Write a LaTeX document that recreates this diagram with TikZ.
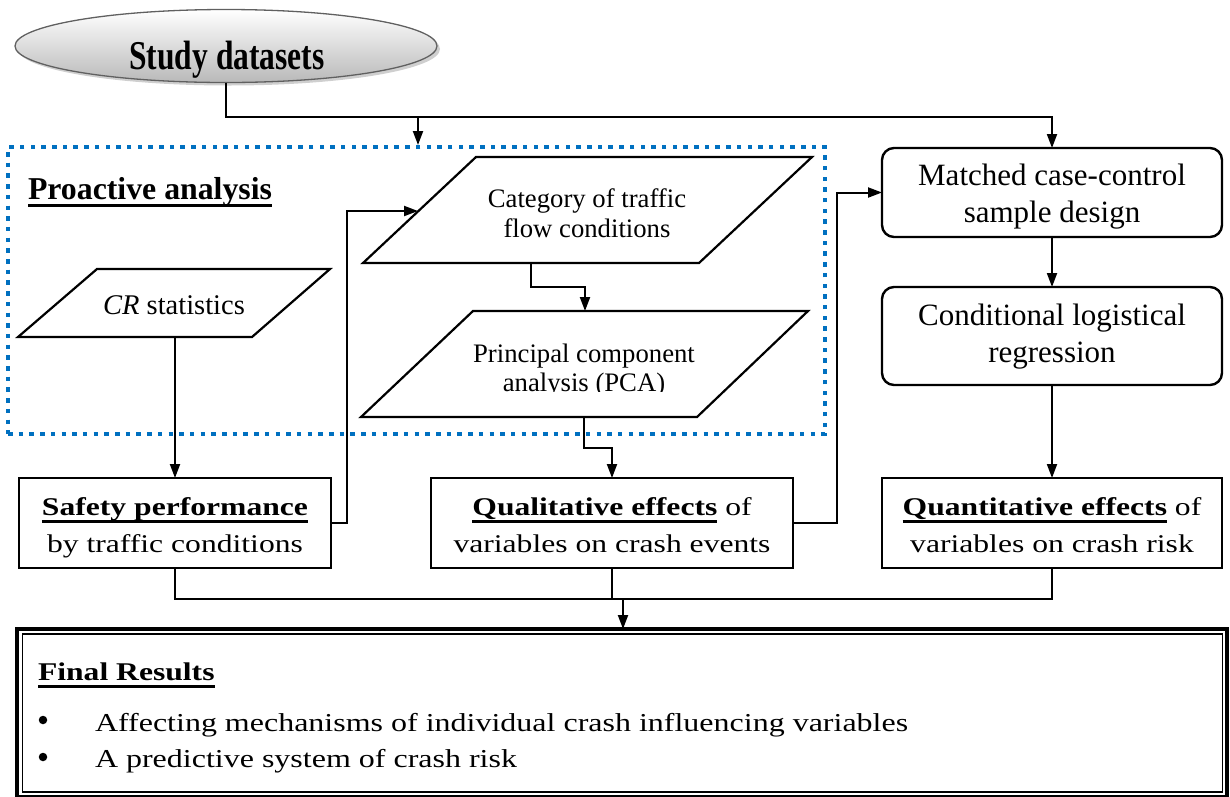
\documentclass[tikz,border=0pt]{standalone}
\usepackage{fontspec}
\setmainfont{Liberation Serif}
\usepackage{graphicx}
\usetikzlibrary{arrows.meta,shapes.geometric,shadows}
\definecolor{dotblue}{RGB}{0,112,192}
\newcommand\ulb[1]{\setbox0\hbox{#1}\rlap{\rule[-7.5pt]{\wd0}{3pt}}\box0\relax}
\newcommand\wl[1]{\scalebox{1.24}[1]{#1}}
\begin{document}
\begin{tikzpicture}[x=1pt,y=-1pt,
  conn/.style={line width=2pt},
  arr/.style={conn,-{Triangle[length=14pt,width=10pt]}},
  rbox/.style={draw, line width=2.4pt, rounded corners=12pt, minimum width=340pt, outer sep=0pt, inner sep=0pt},
  sbox/.style={draw, line width=2.6pt, outer sep=0pt, inner sep=0pt, minimum height=90pt},
  para/.style={line width=2.2pt, line join=miter},
  txt/.style={inner sep=0pt, outer sep=0pt, anchor=base},
  rtxt/.style={txt, font=\fontsize{31}{36}\selectfont},
  ptxt/.style={txt, font=\fontsize{26.7}{30}\selectfont},
  btxt/.style={txt, font=\fontsize{25.5}{30}\selectfont},
  bul/.style={circle, fill, inner sep=0pt, minimum size=8.5pt},
]
\useasboundingbox (0,0) rectangle (1230,796);

% ---- Study datasets ----
\node[ellipse, draw=gray!75!black, line width=1.3pt, top color=white, bottom color=gray!55,
      minimum width=422pt, minimum height=73pt, inner sep=0pt, outer sep=0pt,
      drop shadow={shadow xshift=3pt, shadow yshift=-3pt, fill=gray!75}] (study) at (226,46) {};
\node[txt, font=\bfseries\fontsize{31.5}{36}\selectfont] (studyT) at (227,69) {\scalebox{1}[1.3]{Study datasets}};

% ---- Proactive dotted region ----
\node[draw=dotblue, line width=4.5pt, dash pattern=on 4.5pt off 6.2pt, minimum width=817pt, minimum height=287pt,
      inner sep=0pt, outer sep=0pt] (pro) at (416.5,290.5) {};
\node[txt, anchor=base west, font=\bfseries\fontsize{31.8}{36}\selectfont] (proT) at (28,199) {\ulb{Proactive analysis}};

% ---- CR statistics ----
\coordinate (cr1) at (97,269); \coordinate (cr2) at (330,269);
\coordinate (cr3) at (252,337); \coordinate (cr4) at (18,337);
\draw[para] (cr1) -- (cr2) -- (cr3) -- (cr4) -- cycle;
\node[txt, font=\fontsize{28.5}{30}\selectfont] (crT) at (174,314) {\textit{CR} statistics};
\coordinate (crB) at (175,337);

% ---- Category of traffic flow conditions ----
\coordinate (ca1) at (476,157); \coordinate (ca2) at (812,157);
\coordinate (ca3) at (699,263); \coordinate (ca4) at (363,263);
\draw[para] (ca1) -- (ca2) -- (ca3) -- (ca4) -- cycle;
\node[ptxt] (caT1) at (587,207) {Category of traffic};
\node[ptxt] (caT2) at (587,237) {flow conditions};
\coordinate (catB) at (531,263);
\coordinate (catL) at (418,211);

% ---- PCA ----
\coordinate (pc1) at (473,311); \coordinate (pc2) at (808,311);
\coordinate (pc3) at (697,417); \coordinate (pc4) at (361,417);
\draw[para] (pc1) -- (pc2) -- (pc3) -- (pc4) -- cycle;
\node[ptxt] (pcT1) at (584,362) {Principal component};
\begin{scope}
\clip (380,330) rectangle (800,391);
\node[ptxt] (pcT2) at (584,391) {analysis (PCA)};
\end{scope}
\coordinate (pcaT) at (585,311);
\coordinate (pcaB) at (584,417);

% ---- Right column ----
\node[rbox, minimum height=89pt] (matched) at (1052,192.5) {};
\node[rtxt] (maT1) at (1052,185) {Matched case-control};
\node[rtxt] (maT2) at (1052,222) {sample design};
\node[rbox, minimum height=98pt] (cond) at (1052,336) {};
\node[rtxt] (coT1) at (1052,325) {Conditional logistical};
\node[rtxt] (coT2) at (1052,362) {regression};

% ---- Bottom row ----
\node[sbox, minimum width=312pt] (safety) at (175,523) {};
\node[btxt] (saT1) at (175,515) {\wl{\ulb{\bfseries Safety performance}}};
\node[btxt] (saT2) at (175,552) {\wl{by traffic conditions}};
\node[sbox, minimum width=362pt] (qual) at (612,523) {};
\node[btxt] (quT1) at (612,515) {\wl{\ulb{\bfseries Qualitative effects} of}};
\node[btxt] (quT2) at (612,552) {\wl{variables on crash events}};
\node[sbox, minimum width=340pt] (quant) at (1052,523) {};
\node[btxt] (qnT1) at (1052,515) {\wl{\ulb{\bfseries Quantitative effects} of}};
\node[btxt] (qnT2) at (1052,552) {\wl{variables on crash risk}};

% ---- Final results ----
\node[draw, line width=4.5pt, minimum width=1210pt, minimum height=168pt, inner sep=0pt, outer sep=0pt] (final) at (622,713) {};
\node[draw, line width=1.2pt, minimum width=1200pt, minimum height=158pt, inner sep=0pt, outer sep=0pt] (finalIn) at (622.5,713) {};
\node[btxt, anchor=base west, font=\bfseries\fontsize{25.5}{30}\selectfont] (finT) at (38,680) {\wl{\ulb{Final Results}}};
\node[bul] (b1) at (43,720) {};
\node[bul] (b2) at (43,757) {};
\node[btxt, anchor=base west, font=\fontsize{25.8}{30}\selectfont] (l1) at (95,731) {\wl{Affecting mechanisms of individual crash influencing variables}};
\node[btxt, anchor=base west, font=\fontsize{25.8}{30}\selectfont] (l2) at (95,767) {\wl{A predictive system of crash risk}};

% ---- Connectors ----
\coordinate (topL) at (226,117);
\coordinate (topM) at (418,117);
\coordinate (topR) at (1052,117);
\coordinate (dotTop) at (418,145);
\draw[arr] (study.south) -- (topL) -- (topR) -- (matched.north);
\draw[arr] (topM) -- (dotTop);
\draw[arr] (crB) -- (safety.north);
\draw[arr] (catB) -- ++(0,24) -| (pcaT);
\draw[arr] (pcaB) -- ++(0,31) -| (qual.north);
\draw[arr] (safety.east) -- ++(16,0) |- (catL);
\draw[arr] (qual.east) -- ++(44,0) |- (matched.west);
\draw[arr] (matched.south) -- (cond.north);
\draw[arr] (cond.south) -- (quant.north);
\coordinate (botJ) at (623,599);
\draw[line width=1.6pt] (safety.south) -- ++(0,31) -| (quant.south);
\draw[line width=1.6pt] (qual.south) -- ++(0,31);
\draw[arr] (botJ) -- (botJ |- final.north);
\end{tikzpicture}
\end{document}
